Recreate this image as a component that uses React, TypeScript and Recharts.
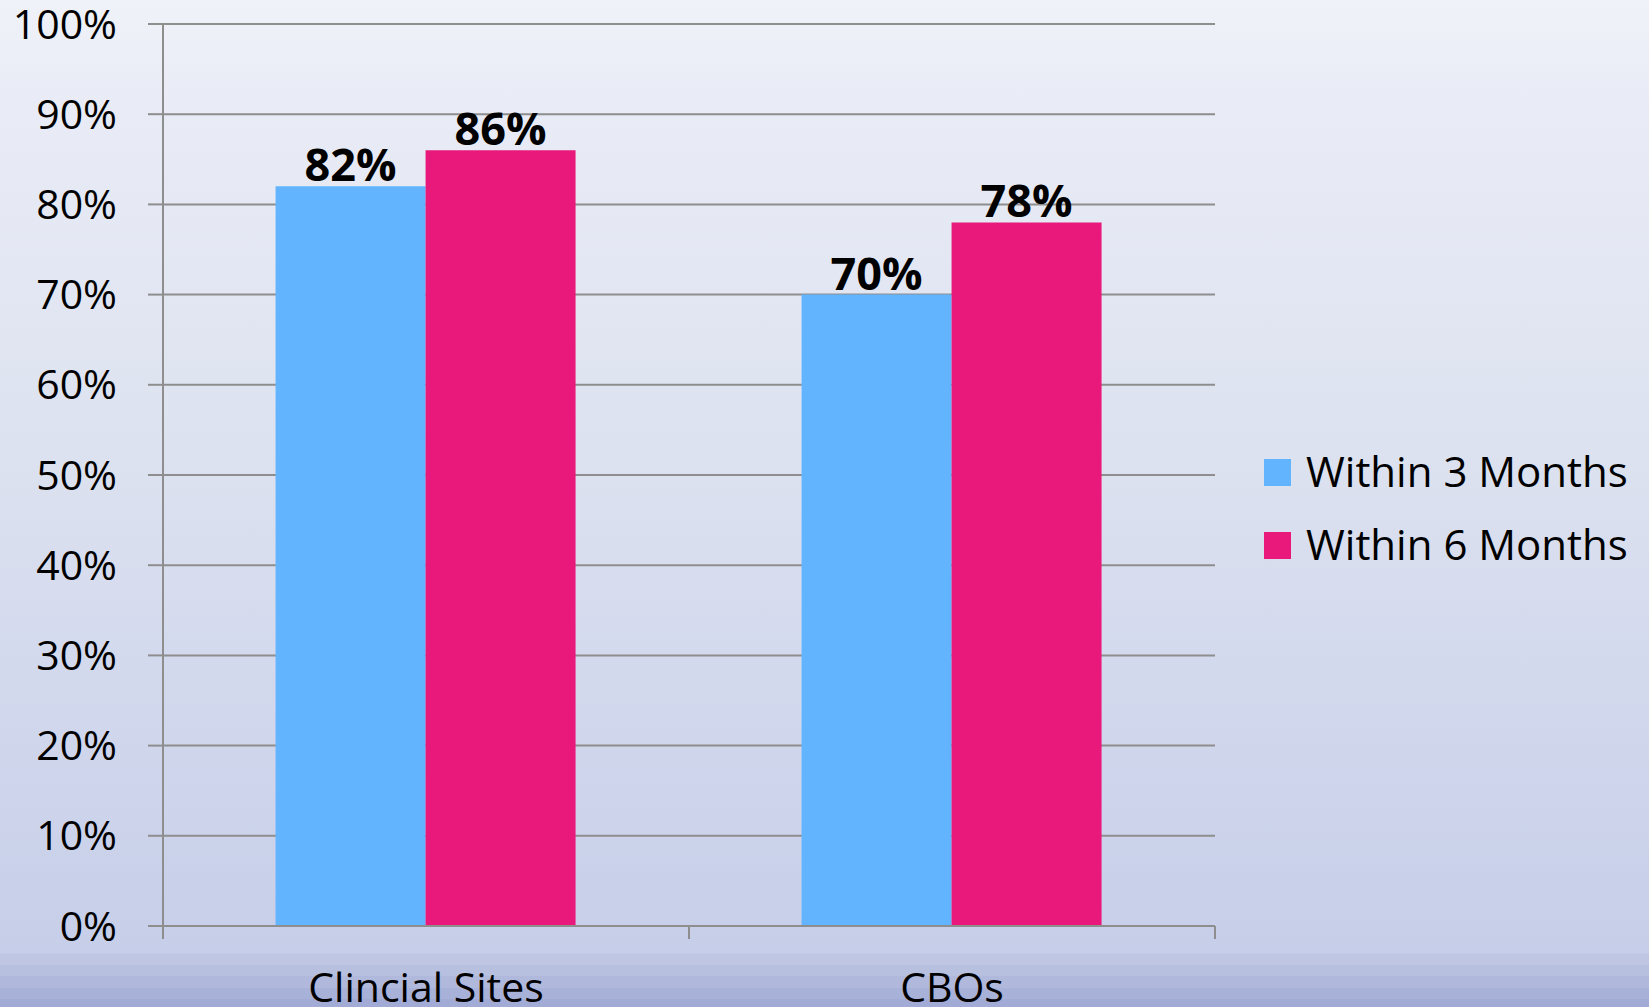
import React from "react";
import { BarChart, Bar, XAxis, YAxis, CartesianGrid, LabelList, Legend } from "recharts";

const categories = ["Clincial Sites", "CBOs"];
const within3Months = [82, 70];
const within6Months = [86, 78];
const yTicks = [0, 10, 20, 30, 40, 50, 60, 70, 80, 90, 100];
const seriesNames = ["Within 3 Months", "Within 6 Months"];
const seriesColors = ["#62b4fe", "#e9187b"];
const boundaryTicks = [0, 1, 2];

const data = categories.map((c, i) => ({
  name: c,
  m3: within3Months[i],
  m6: within6Months[i],
  pos: i + 0.5,
}));

const FONT = "'Open Sans', sans-serif";
const GRID = "#8e8e8e";

const LegendContent = () => (
  <div style={{ fontFamily: FONT }}>
    {seriesNames.map((n, i) => (
      <div key={n} style={{ display: "flex", alignItems: "center", height: 73 }}>
        <div style={{ width: 27, height: 27, background: seriesColors[i], marginRight: 15, marginTop: 4 }} />
        <span style={{ fontSize: 42, color: "#000", lineHeight: "73px", whiteSpace: "nowrap" }}>{n}</span>
      </div>
    ))}
  </div>
);

export default function App() {
  return (
    <div
      style={{
        position: "absolute",
        left: 0,
        top: 0,
        width: 1649,
        height: 1007,
        background:
          "linear-gradient(to bottom, #eff2f8 0px, #e9ecf6 100px, #dde2f0 450px, #c6cee9 953px, #bec6e4 954px, #bec6e4 965px, #b8c0e0 965px, #b8c0e0 976px, #b0b8dc 976px, #b0b8dc 988px, #a8b1d8 988px, #a8b1d8 999px, #a1abd5 999px, #a1abd5 1007px)",
        overflow: "hidden",
      }}
    >
      <BarChart
        width={1649}
        height={1007}
        data={data}
        margin={{ top: 24, right: 434, bottom: 0, left: 0 }}
        barCategoryGap="21.4%"
        barGap={0}
      >
        <CartesianGrid vertical={false} xAxisId="cat" stroke={GRID} strokeWidth={2} />
        <XAxis
          xAxisId="bnd"
          type="number"
          dataKey="pos"
          domain={[0, 2]}
          ticks={boundaryTicks}
          tickFormatter={() => ""}
          height={13}
          axisLine={{ stroke: GRID, strokeWidth: 2 }}
          tickLine={{ stroke: GRID, strokeWidth: 2 }}
          tickSize={13}
          tick={{ fontSize: 1, fill: "transparent" }}
        />
        <XAxis
          xAxisId="cat"
          dataKey="name"
          height={68}
          axisLine={false}
          tickLine={false}
          tickSize={0}
          tickMargin={34}
          tick={{ fontFamily: FONT, fontSize: 41, fill: "#000" }}
          interval={0}
        />
        <YAxis
          width={163}
          domain={[0, 100]}
          ticks={yTicks}
          interval={0}
          tickFormatter={(v) => `${v}%`}
          axisLine={{ stroke: GRID, strokeWidth: 2 }}
          tickLine={{ stroke: GRID, strokeWidth: 2 }}
          tickSize={15}
          tickMargin={31}
          tick={{ fontFamily: FONT, fontSize: 41, fill: "#000" }}
        />
        <Legend
          layout="vertical"
          align="center"
          verticalAlign="middle"
          content={<LegendContent />}
          wrapperStyle={{ position: "absolute", left: 1264, top: 434, width: 385 }}
        />
        <Bar xAxisId="cat" dataKey="m3" name={seriesNames[0]} fill={seriesColors[0]} isAnimationActive={false}>
          <LabelList
            dataKey="m3"
            position="top"
            formatter={(v) => `${v}%`}
            style={{ fontFamily: FONT, fontSize: 45, fontWeight: 700, fill: "#000" }}
          />
        </Bar>
        <Bar xAxisId="cat" dataKey="m6" name={seriesNames[1]} fill={seriesColors[1]} isAnimationActive={false}>
          <LabelList
            dataKey="m6"
            position="top"
            formatter={(v) => `${v}%`}
            style={{ fontFamily: FONT, fontSize: 45, fontWeight: 700, fill: "#000" }}
          />
        </Bar>
      </BarChart>
    </div>
  );
}
